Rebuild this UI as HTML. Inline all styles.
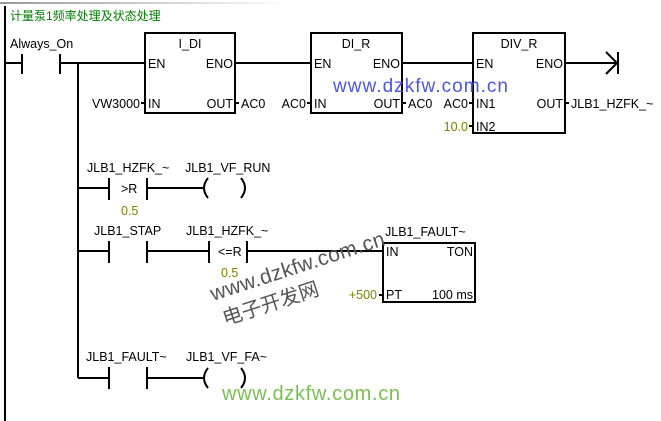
<!DOCTYPE html>
<html><head><meta charset="utf-8"><style>
html,body{margin:0;padding:0;background:#fff;}
svg{display:block;}
text{font-family:"Liberation Sans","Noto Sans CJK SC",sans-serif;font-size:12.5px;fill:#000;}
.o{fill:#808000;}
</style></head><body>
<svg width="661" height="421" viewBox="0 0 661 421">
<defs><linearGradient id="g" x1="0" x2="1"><stop offset="0" stop-color="#999"/><stop offset="1" stop-color="#fff"/></linearGradient></defs>
<rect x="0" y="2" width="290" height="2" fill="url(#g)"/>
<g stroke="#000" stroke-width="2" fill="none">
<line x1="5" y1="6" x2="5" y2="421"/>
<line x1="5" y1="63" x2="22" y2="63"/>
<line x1="22" y1="54" x2="22" y2="74"/><line x1="60" y1="54" x2="60" y2="74"/>
<line x1="60" y1="63" x2="145" y2="63"/>
<line x1="78" y1="63" x2="78" y2="378"/>
<rect x="145" y="33" width="90" height="80"/>
<line x1="235" y1="63" x2="311" y2="63"/>
<rect x="311" y="33" width="91" height="80"/>
<line x1="402" y1="63" x2="473" y2="63"/>
<rect x="473" y="33" width="92" height="100"/>
<line x1="565" y1="63" x2="617" y2="63"/>
<polyline points="606,52 617,63 606,74"/>
<line x1="618" y1="52" x2="618" y2="74"/>
<line x1="141" y1="103" x2="145" y2="103"/><line x1="235" y1="103" x2="239" y2="103"/>
<line x1="307" y1="103" x2="311" y2="103"/><line x1="402" y1="103" x2="406" y2="103"/>
<line x1="469" y1="103" x2="473" y2="103"/><line x1="469" y1="126" x2="473" y2="126"/>
<line x1="565" y1="103" x2="569" y2="103"/>
<line x1="78" y1="188" x2="109" y2="188"/>
<line x1="109" y1="178" x2="109" y2="200"/><line x1="147" y1="178" x2="147" y2="200"/>
<line x1="147" y1="188" x2="203" y2="188"/>
<path d="M208,178 Q200,188 208,198"/><path d="M241,178 Q249,188 241,198"/>
<line x1="78" y1="251" x2="109" y2="251"/>
<line x1="109" y1="241" x2="109" y2="263"/><line x1="147" y1="241" x2="147" y2="263"/>
<line x1="147" y1="251" x2="209" y2="251"/>
<line x1="209" y1="241" x2="209" y2="263"/><line x1="247" y1="241" x2="247" y2="263"/>
<line x1="247" y1="251" x2="383" y2="251"/>
<rect x="383" y="243" width="92" height="59"/>
<line x1="379" y1="295" x2="383" y2="295"/>
<line x1="78" y1="378" x2="109" y2="378"/>
<line x1="109" y1="367" x2="109" y2="389"/><line x1="147" y1="367" x2="147" y2="389"/>
<line x1="147" y1="378" x2="203" y2="378"/>
<path d="M208,368 Q200,378 208,388"/><path d="M241,368 Q249,378 241,388"/>
</g>
<text x="10" y="20" style="fill:#008000;font-size:12px">计量泵1频率处理及状态处理</text>
<text x="10" y="48">Always_On</text>
<text x="190" y="48" text-anchor="middle">I_DI</text>
<text x="148" y="68">EN</text><text x="233" y="68" text-anchor="end">ENO</text>
<text x="148" y="108">IN</text><text x="233" y="108" text-anchor="end">OUT</text>
<text x="140" y="108" text-anchor="end">VW3000</text>
<text x="241" y="108">AC0</text>
<text x="356" y="48" text-anchor="middle">DI_R</text>
<text x="314" y="68">EN</text><text x="400" y="68" text-anchor="end">ENO</text>
<text x="314" y="108">IN</text><text x="400" y="108" text-anchor="end">OUT</text>
<text x="306" y="108" text-anchor="end">AC0</text>
<text x="408" y="108">AC0</text>
<text x="519" y="48" text-anchor="middle">DIV_R</text>
<text x="476" y="68">EN</text><text x="563" y="68" text-anchor="end">ENO</text>
<text x="476" y="108">IN1</text><text x="563" y="108" text-anchor="end">OUT</text>
<text x="476" y="131">IN2</text>
<text x="468" y="108" text-anchor="end">AC0</text>
<text x="468" y="131" text-anchor="end" class="o">10.0</text>
<text x="571" y="108">JLB1_HZFK_~</text>
<text x="333" y="92" textLength="175" style="fill:#4b55ee;font-size:19px">www.dzkfw.com.cn</text>
<text x="87" y="172">JLB1_HZFK_~</text>
<text x="185" y="172">JLB1_VF_RUN</text>
<text x="121" y="193">&gt;R</text>
<text x="121" y="215" class="o">0.5</text>
<text x="94" y="235">JLB1_STAP</text>
<text x="186" y="235">JLB1_HZFK_~</text>
<text x="218" y="256">&lt;=R</text>
<text x="221" y="277" class="o">0.5</text>
<text x="385" y="236">JLB1_FAULT~</text>
<text x="386" y="256">IN</text><text x="473" y="256" text-anchor="end">TON</text>
<text x="386" y="299">PT</text><text x="473" y="299" text-anchor="end">100 ms</text>
<text x="377" y="299" text-anchor="end" class="o">+500</text>
<text x="86" y="361">JLB1_FAULT~</text>
<text x="186" y="361">JLB1_VF_FA~</text>
<text x="222" y="400" textLength="178" style="fill:#78c050;font-size:20px">www.dzkfw.com.cn</text>
<g transform="translate(213,301) rotate(-18)">
<text x="0" y="0" textLength="182" style="fill:#555;font-size:21px">www.dzkfw.com.cn</text>
<text x="4" y="27" style="fill:#555;font-size:20px">电子开发网</text>
</g>
</svg>
</body></html>
